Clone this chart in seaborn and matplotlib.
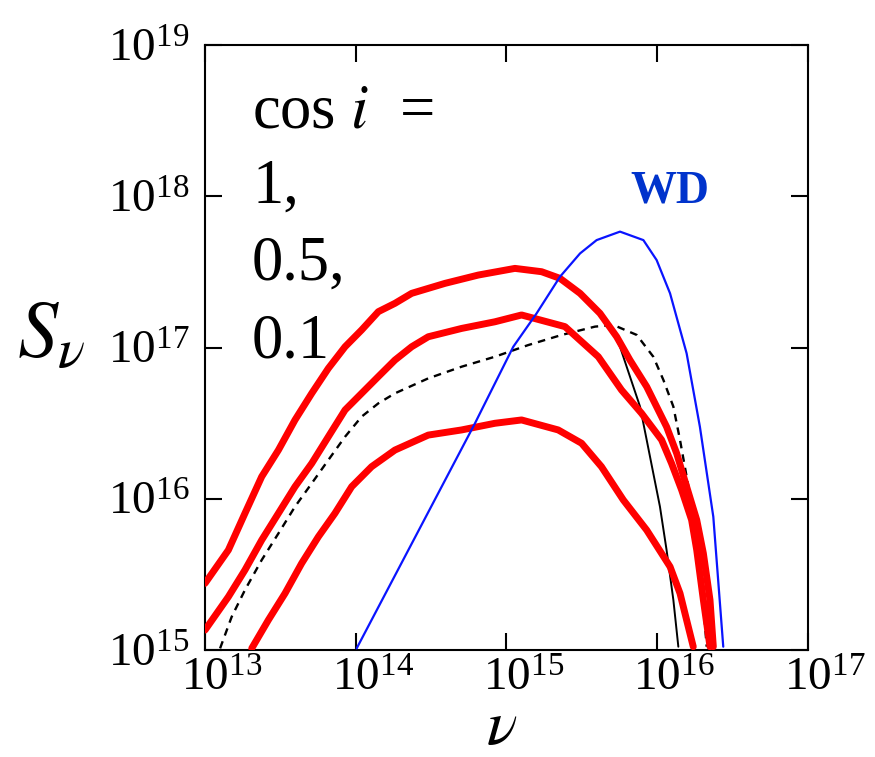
import numpy as np
import pandas as pd
import matplotlib
matplotlib.use("Agg")
import matplotlib.pyplot as plt
import matplotlib.transforms as mtrans
import seaborn as sns

# values, as log10(nu) and log10(S_nu)
lognu_top = [13.00, 13.155, 13.265, 13.376, 13.487, 13.597, 13.708, 13.818, 13.929, 14.039, 14.150, 14.260,
             14.371, 14.592, 14.813, 15.056, 15.233, 15.355, 15.488, 15.620, 15.731, 15.819, 15.930, 16.062,
             16.129, 16.195, 16.262, 16.306, 16.350, 16.372]
logs_top = [15.441, 15.661, 15.904, 16.146, 16.322, 16.521, 16.697, 16.862, 17.005, 17.116, 17.237, 17.292,
            17.358, 17.424, 17.479, 17.523, 17.501, 17.457, 17.358, 17.226, 17.071, 16.917, 16.741, 16.476,
            16.300, 16.080, 15.860, 15.639, 15.331, 15.022]

lognu_mid = [13.00, 13.155, 13.265, 13.376, 13.487, 13.597, 13.708, 13.818, 13.929, 14.039, 14.150, 14.260,
             14.371, 14.481, 14.702, 14.923, 15.100, 15.388, 15.609, 15.763, 15.896, 16.029, 16.095, 16.162,
             16.228, 16.262, 16.306, 16.350]
logs_mid = [15.132, 15.352, 15.529, 15.727, 15.904, 16.080, 16.234, 16.410, 16.587, 16.697, 16.808, 16.917,
            17.005, 17.071, 17.126, 17.170, 17.215, 17.138, 16.939, 16.719, 16.565, 16.389, 16.234, 16.058,
            15.860, 15.661, 15.331, 15.022]

lognu_low = [13.310, 13.420, 13.531, 13.641, 13.752, 13.862, 13.973, 14.105, 14.260, 14.481, 14.702, 14.923,
             15.100, 15.343, 15.498, 15.630, 15.775, 15.930, 16.085, 16.151, 16.195, 16.239]
logs_low = [15.011, 15.198, 15.375, 15.573, 15.749, 15.904, 16.080, 16.212, 16.322, 16.421, 16.455, 16.499,
            16.521, 16.455, 16.367, 16.212, 15.992, 15.793, 15.551, 15.375, 15.198, 15.022]

lognu_dash = [13.100, 13.177, 13.265, 13.376, 13.487, 13.597, 13.708, 13.818, 13.929, 14.039, 14.150, 14.260,
              14.481, 14.702, 14.923, 15.144, 15.366, 15.587, 15.709, 15.864, 15.974, 16.041, 16.107, 16.151,
              16.195, 16.239, 16.283, 16.328]
logs_dash = [15.011, 15.220, 15.397, 15.595, 15.771, 15.948, 16.102, 16.256, 16.410, 16.543, 16.631, 16.697,
             16.796, 16.873, 16.939, 17.016, 17.083, 17.138, 17.149, 17.083, 16.939, 16.785, 16.609, 16.389,
             16.146, 15.904, 15.595, 15.022]

lognu_solid = [15.687, 15.753, 15.819, 15.886, 15.930, 15.974, 16.018, 16.062, 16.107, 16.140]
logs_solid = [17.138, 17.005, 16.808, 16.609, 16.389, 16.168, 15.948, 15.661, 15.331, 15.022]

lognu_wd = [14.006, 14.791, 14.824, 15.045, 15.200, 15.355, 15.488, 15.598, 15.753, 15.908, 15.996, 16.085,
            16.195, 16.283, 16.372, 16.438]
logs_wd = [15.011, 16.499, 16.565, 17.005, 17.226, 17.468, 17.622, 17.710, 17.766, 17.710, 17.578, 17.358,
           16.961, 16.476, 15.881, 15.022]

cosi_lines = ["cos $i$  =", "1,", "0.5,", "0.1"]
xticks = [1e13, 1e14, 1e15, 1e16, 1e17]
yticks = [1e15, 1e16, 1e17, 1e18, 1e19]


def frame(lx, ly):
    return pd.DataFrame({"nu": 10 ** np.array(lx), "S": 10 ** np.array(ly)})


sns.set_style("ticks")
plt.rcParams['font.family'] = ['Liberation Serif', 'DejaVu Serif']
plt.rcParams['mathtext.fontset'] = 'stix'
for k in ["text.color", "axes.labelcolor", "xtick.color", "ytick.color", "axes.edgecolor"]:
    plt.rcParams[k] = "black"

fig = plt.figure(figsize=(8.75, 7.57), dpi=100)
ax = fig.add_axes([0.2343, 0.1413, 0.6891, 0.7993])

sns.lineplot(data=frame(lognu_dash, logs_dash), x="nu", y="S", sort=False, ax=ax,
             color="black", lw=1.7, linestyle=(0, (3.2, 2.6)), zorder=2)
sns.lineplot(data=frame(lognu_solid, logs_solid), x="nu", y="S", sort=False, ax=ax,
             color="black", lw=1.4, zorder=2)
for lx, ly in [(lognu_top, logs_top), (lognu_mid, logs_mid), (lognu_low, logs_low)]:
    sns.lineplot(data=frame(lx, ly), x="nu", y="S", sort=False, ax=ax,
                 color="#ff0000", lw=5, zorder=3)
sns.lineplot(data=frame(lognu_wd, logs_wd), x="nu", y="S", sort=False, ax=ax,
             color="#0a14ff", lw=1.6, zorder=4)

ax.set_xscale("log")
ax.set_yscale("log")
ax.set_xlim(1e13, 1e17)
ax.set_ylim(1e15, 1e19)
ax.set_xticks(xticks)
ax.set_yticks(yticks)
ax.minorticks_off()
ax.tick_params(which="major", direction="in", top=True, right=True,
               length=12, width=1.5, labelsize=34, color="black", labelcolor="black")
ax.tick_params(axis="y", pad=11)
ax.tick_params(axis="x", pad=6)
for sp in ax.spines.values():
    sp.set_linewidth(1.5)
    sp.set_color("black")

# "10" sits centred on the tick, the exponent hangs to the right
shift = mtrans.ScaledTranslation(0.17, 0, fig.dpi_scale_trans)
for lab in ax.get_xticklabels():
    lab.set_transform(lab.get_transform() + shift)

ax.set_xlabel(r"$\nu$", fontsize=46, va="baseline")
ax.xaxis.set_label_coords(0.4925, -0.155)
ax.set_ylabel(r"$S_\nu$", fontsize=58, rotation=0, ha="left", va="baseline")
ax.yaxis.set_label_coords(-0.312, 0.483)

baselines = [0.832, 0.732, 0.630, 0.528]
for txt, yb in zip(cosi_lines, baselines):
    fig.text(0.288, yb, txt, fontsize=45, va="baseline", ha="left")

fig.text(0.72, 0.733, "WD", fontsize=33, fontweight="bold", color="#0033cc",
         va="baseline", ha="left")

fig.savefig("out.png", dpi=100)
